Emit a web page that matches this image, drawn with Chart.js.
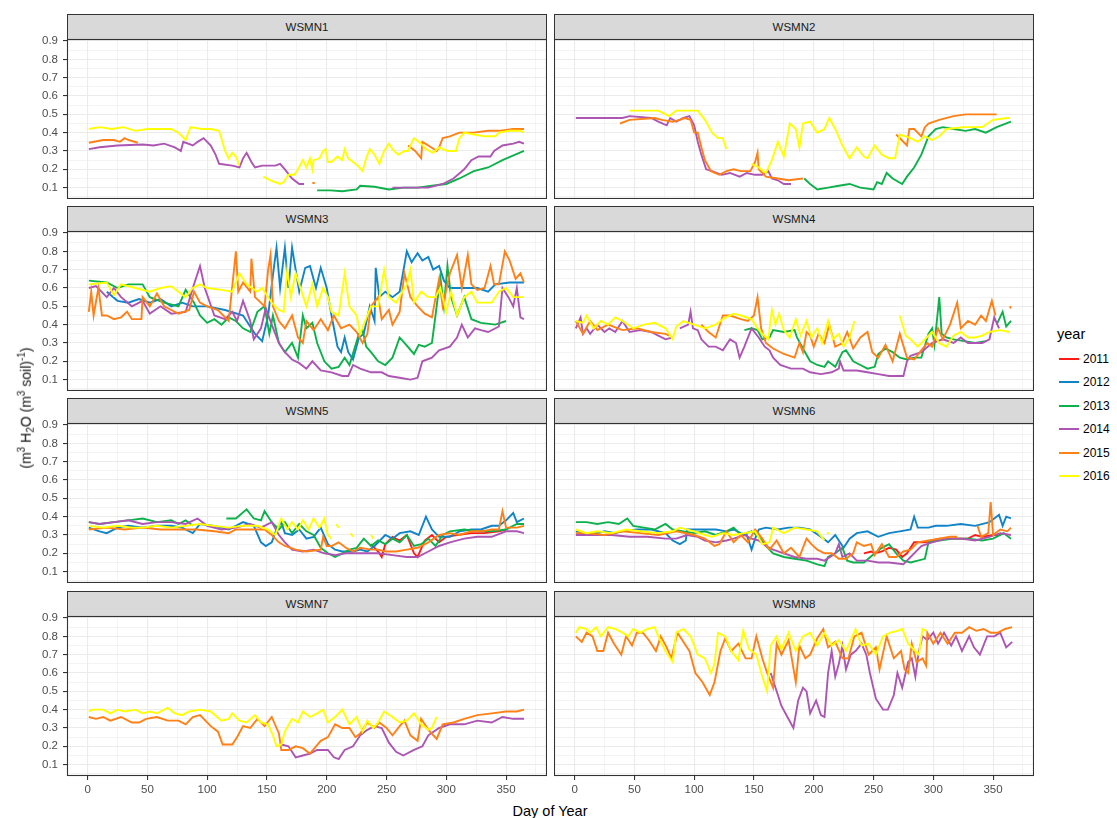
<!DOCTYPE html>
<html>
<head>
<meta charset="utf-8">
<script src="https://cdn.jsdelivr.net/npm/chart.js@4.4.1/dist/chart.umd.min.js"></script>
<style>
  body { margin: 0; background: #fff; font-family: Arial, "Liberation Sans", sans-serif; }
  #page { position: relative; width: 1117px; height: 818px; overflow: hidden; }
  .strip { position: absolute; box-sizing: border-box; background: #d9d9d9; border: 1px solid #333;
           font-size: 11.5px; color: #1a1a1a; text-align: center; }
  .panel { position: absolute; }
  .ytitle { position: absolute; left: 26px; top: 408px; transform: translate(-50%, -50%) rotate(-90deg);
            white-space: nowrap; font-size: 14px; font-weight: 400; color: #111; }
  .ytitle sup, .ytitle sub { font-size: 10px; }
  .xtitle { position: absolute; left: 550px; top: 811px; transform: translate(-50%, -50%); font-size: 14.5px; color: #000; }
  .leg-title { position: absolute; left: 1057px; top: 326px; font-size: 14.5px; color: #000; }
  .leg-item { position: absolute; left: 1059px; height: 16px; font-size: 12px; color: #000; }
  .leg-item i { position: absolute; left: 0; top: 7px; width: 20px; height: 2px; }
  .leg-item span { position: absolute; left: 24px; top: 0; line-height: 16px; }
</style>
</head>
<body>
<div id="page"></div>
<script>
// soil water content by day of year, one array of [day, value] per station/year
// null breaks the line where the logger had no data
const PANELS = ['WSMN1', 'WSMN2', 'WSMN3', 'WSMN4', 'WSMN5', 'WSMN6', 'WSMN7', 'WSMN8'];
const YEARS = [2011, 2012, 2013, 2014, 2015, 2016];
const YEAR_COLORS = ['#ff1a1a', '#1184c8', '#0db14b', '#ac55b3', '#ff8016', '#ffff00'];
const Y_TICKS = [0.05, 0.1, 0.15, 0.2, 0.25, 0.3, 0.35, 0.4, 0.45, 0.5, 0.55, 0.6, 0.65, 0.7, 0.75, 0.8, 0.85, 0.9];
const X_TICKS = [0, 25, 50, 75, 100, 125, 150, 175, 200, 225, 250, 275, 300, 325, 350, 375];

const w1_2013 = [[192,.085],[203,.085],[213,.08],[225,.09],[228,.11],[240,.105],[252,.09],[264,.1],[276,.1],[288,.11],[300,.12],[311,.15],[323,.19],[335,.21],[347,.25],[365,.3]];
const w1_2014 = [[1,.31],[10,.32],[25,.33],[46,.335],[55,.33],[64,.34],[73,.32],[78,.3],[80,.35],[88,.33],[92,.35],[97,.37],[103,.33],[107,.28],[110,.23],[121,.22],[127,.21],[130,.26],[133,.29],[137,.24],[140,.21],[146,.22],[157,.22],[161,.23],[165,.2],[171,.15],[177,.12],[181,.12],[182,null],[255,.1],[270,.1],[285,.1],[297,.12],[306,.15],[315,.2],[321,.25],[327,.27],[337,.27],[340,.3],[347,.33],[356,.34],[361,.35],[365,.34]];
const w1_2015 = [[1,.345],[13,.36],[22,.36],[27,.35],[31,.37],[34,.36],[42,.345],[43,null],[188,.125],[190,.125],[191,null],[268,.33],[274,.3],[279,.26],[280,.35],[285,.33],[292,.3],[294,.32],[297,.37],[303,.38],[311,.4],[323,.4],[335,.41],[344,.41],[356,.42],[365,.42]];
const w1_2016 = [[1,.42],[10,.43],[20,.42],[30,.43],[40,.41],[50,.42],[60,.42],[70,.42],[76,.4],[82,.36],[86,.43],[95,.42],[103,.42],[110,.41],[115,.3],[118,.26],[121,.29],[124,.27],[127,.22],[128,null],[147,.16],[153,.14],[161,.12],[164,.13],[168,.17],[173,.17],[176,.2],[180,.25],[183,.21],[186,.26],[188,.2],[189,.25],[194,.26],[197,.3],[199,.31],[201,.24],[204,.24],[209,.27],[213,.25],[215,.31],[218,.26],[222,.24],[226,.22],[230,.19],[233,.26],[236,.31],[240,.28],[244,.23],[248,.3],[252,.34],[255,.31],[258,.29],[260,.28],[265,.3],[268,.3],[273,.37],[279,.34],[283,.31],[289,.29],[294,.32],[301,.3],[308,.3],[311,.37],[315,.4],[323,.39],[332,.38],[341,.38],[344,.4],[353,.41],[362,.41],[365,.4]];

const w2_2013 = [[192,.15],[197,.12],[203,.09],[212,.1],[221,.11],[230,.12],[239,.1],[250,.09],[253,.13],[257,.12],[261,.18],[266,.15],[274,.12],[278,.16],[284,.21],[290,.28],[296,.38],[302,.42],[308,.43],[317,.42],[327,.41],[335,.42],[344,.4],[353,.43],[365,.46]];
const w2_2014 = [[1,.48],[20,.48],[40,.48],[46,.49],[64,.48],[70,.46],[77,.44],[80,.48],[85,.46],[91,.48],[96,.49],[100,.44],[103,.35],[106,.28],[110,.2],[115,.19],[123,.17],[130,.18],[138,.16],[144,.18],[151,.17],[157,.17],[162,.19],[165,.15],[170,.14],[175,.12],[181,.12]];
const w2_2015 = [[38,.45],[46,.47],[67,.48],[73,.47],[82,.46],[88,.47],[92,.48],[97,.47],[100,.4],[103,.4],[106,.32],[109,.25],[114,.19],[121,.17],[127,.19],[133,.2],[139,.19],[147,.19],[151,.24],[153,.29],[154,.2],[160,.16],[170,.15],[179,.14],[191,.15],[192,null],[269,.39],[278,.33],[280,.42],[284,.42],[290,.38],[293,.43],[296,.45],[305,.47],[317,.49],[327,.5],[341,.5],[353,.5]];
const w2_2016 = [[34,.52],[35,null],[46,.52],[70,.52],[79,.49],[85,.52],[94,.52],[103,.52],[109,.47],[115,.4],[120,.37],[124,.37],[127,.31],[128,null],[148,.23],[154,.21],[160,.18],[165,.25],[170,.35],[175,.27],[180,.45],[185,.42],[188,.32],[191,.45],[197,.46],[203,.4],[209,.42],[213,.48],[218,.42],[224,.33],[230,.26],[236,.32],[242,.27],[245,.26],[251,.33],[257,.28],[263,.26],[268,.26],[272,.39],[281,.37],[287,.35],[293,.38],[299,.36],[305,.38],[311,.42],[326,.43],[341,.43],[350,.47],[362,.48],[364,.48]];

const w3_2012 = [[16,.58],[25,.53],[34,.52],[43,.54],[52,.52],[61,.54],[70,.5],[79,.52],[88,.5],[100,.5],[115,.48],[130,.45],[140,.35],[146,.31],[151,.45],[155,.67],[158,.82],[161,.6],[165,.82],[168,.6],[171,.82],[174,.7],[177,.58],[182,.71],[186,.72],[191,.6],[195,.71],[200,.6],[204,.45],[209,.28],[212,.25],[215,.33],[218,.25],[222,.21],[227,.33],[231,.35],[236,.5],[240,.42],[241,.71],[244,.55],[249,.58],[255,.55],[261,.58],[267,.8],[271,.74],[276,.79],[280,.75],[285,.77],[289,.7],[294,.72],[298,.64],[303,.6],[315,.6],[326,.6],[335,.58],[341,.62],[353,.63],[365,.63]];
const w3_2013 = [[1,.64],[16,.63],[25,.6],[34,.62],[46,.62],[52,.55],[64,.52],[76,.5],[82,.59],[89,.52],[94,.45],[100,.41],[106,.43],[112,.4],[118,.44],[124,.42],[130,.38],[136,.36],[142,.47],[148,.5],[152,.35],[155,.45],[160,.3],[165,.25],[171,.3],[176,.22],[180,.45],[183,.38],[188,.41],[192,.3],[198,.2],[204,.16],[210,.17],[215,.22],[219,.18],[227,.35],[230,.37],[233,.28],[237,.25],[243,.2],[249,.18],[255,.22],[261,.33],[265,.3],[273,.24],[277,.29],[282,.28],[288,.3],[291,.45],[295,.66],[298,.5],[301,.72],[304,.55],[309,.45],[315,.55],[321,.43],[329,.41],[341,.4],[350,.42]];
const w3_2014 = [[1,.6],[7,.61],[16,.55],[22,.6],[28,.55],[37,.5],[46,.53],[52,.46],[61,.5],[70,.46],[82,.47],[89,.62],[94,.72],[98,.6],[106,.45],[115,.43],[121,.47],[125,.42],[130,.53],[136,.42],[139,.32],[145,.38],[149,.49],[154,.4],[160,.3],[165,.25],[171,.21],[177,.19],[183,.16],[188,.2],[195,.15],[204,.14],[213,.12],[218,.12],[222,.18],[228,.16],[237,.14],[246,.14],[252,.12],[261,.11],[270,.1],[276,.11],[280,.2],[288,.22],[294,.26],[303,.28],[309,.33],[313,.4],[318,.33],[324,.38],[329,.37],[335,.36],[344,.39],[347,.6],[352,.55],[356,.5],[359,.6],[362,.44],[365,.43]];
const w3_2015 = [[1,.47],[3,.58],[5,.45],[9,.6],[12,.45],[16,.45],[22,.43],[28,.44],[33,.47],[37,.43],[45,.43],[46,.55],[52,.5],[58,.57],[64,.5],[70,.48],[76,.46],[85,.48],[89,.58],[94,.52],[100,.5],[109,.48],[118,.42],[124,.8],[126,.58],[130,.63],[136,.58],[137,.76],[140,.55],[148,.5],[151,.7],[153,.78],[155,.5],[160,.42],[165,.38],[171,.45],[176,.33],[180,.3],[183,.42],[189,.37],[195,.43],[201,.37],[206,.45],[212,.38],[219,.4],[225,.36],[230,.3],[234,.35],[237,.5],[243,.55],[246,.43],[252,.48],[255,.4],[261,.47],[265,.68],[270,.55],[276,.5],[282,.46],[288,.44],[294,.65],[297,.5],[303,.68],[309,.78],[313,.6],[318,.78],[321,.62],[326,.59],[332,.6],[337,.72],[340,.62],[344,.62],[349,.8],[353,.75],[358,.65],[362,.68],[365,.63]];
const w3_2016 = [[1,.62],[16,.63],[22,.56],[28,.62],[40,.6],[52,.58],[61,.6],[70,.61],[76,.58],[82,.55],[88,.6],[94,.62],[100,.6],[112,.59],[121,.58],[127,.68],[133,.62],[142,.58],[146,.6],[154,.52],[160,.48],[164,.47],[167,.7],[170,.55],[174,.68],[179,.58],[183,.5],[188,.62],[192,.5],[197,.6],[201,.55],[204,.47],[210,.45],[215,.68],[219,.5],[225,.45],[228,.35],[231,.4],[237,.5],[243,.5],[248,.7],[252,.55],[258,.52],[267,.62],[270,.7],[273,.52],[279,.58],[285,.55],[291,.55],[295,.6],[300,.47],[304,.58],[309,.45],[315,.55],[321,.58],[326,.52],[338,.52],[344,.58],[350,.6],[356,.55],[365,.55]];

const w4_2013 = [[142,.37],[148,.38],[153,.37],[157,.32],[163,.33],[166,.37],[175,.36],[184,.37],[186,.33],[191,.27],[197,.2],[203,.18],[209,.17],[212,.2],[218,.17],[224,.25],[227,.26],[233,.2],[239,.18],[245,.16],[251,.17],[254,.24],[260,.27],[266,.25],[272,.22],[278,.21],[284,.22],[290,.22],[296,.35],[299,.38],[301,.29],[305,.55],[307,.35],[311,.33],[317,.32],[326,.31],[335,.3],[344,.31],[345,null],[353,.4],[358,.47],[361,.39],[365,.42]];
const w4_2014 = [[1,.38],[5,.44],[7,.35],[10,.38],[13,.35],[19,.4],[25,.36],[29,.38],[34,.36],[40,.42],[46,.36],[55,.37],[64,.36],[70,.34],[76,.32],[82,.33],[83,null],[88,.38],[95,.4],[97,.47],[99,.38],[103,.37],[106,.32],[112,.28],[118,.28],[124,.26],[130,.32],[135,.3],[138,.22],[142,.28],[148,.38],[154,.33],[159,.28],[163,.26],[166,.22],[172,.18],[181,.16],[191,.16],[197,.14],[206,.13],[215,.14],[221,.16],[222,.2],[225,.15],[236,.15],[245,.14],[254,.13],[263,.12],[275,.12],[278,.2],[281,.23],[290,.25],[299,.3],[308,.32],[317,.3],[323,.33],[329,.3],[341,.3],[347,.32],[351,.44],[355,.38]];
const w4_2015 = [[1,.42],[7,.35],[13,.42],[19,.37],[28,.4],[40,.37],[52,.38],[64,.36],[76,.35],[79,.34],[80,null],[106,.4],[112,.36],[118,.33],[124,.45],[130,.45],[139,.43],[145,.42],[150,.45],[153,.55],[156,.38],[160,.3],[166,.27],[175,.24],[184,.22],[188,.3],[191,.25],[194,.36],[197,.34],[200,.28],[204,.35],[209,.3],[213,.4],[218,.28],[224,.3],[228,.36],[233,.27],[239,.33],[245,.36],[249,.25],[254,.22],[260,.29],[266,.2],[272,.35],[278,.22],[284,.21],[290,.26],[295,.3],[299,.28],[304,.38],[308,.32],[314,.4],[320,.52],[323,.38],[329,.42],[335,.4],[340,.45],[344,.42],[349,.53],[352,.45],[353,null],[364,.49],[365,.5]];
const w4_2016 = [[1,.42],[7,.41],[10,.45],[16,.38],[22,.42],[28,.4],[34,.44],[40,.42],[49,.38],[58,.4],[67,.41],[76,.38],[82,.32],[85,.39],[91,.42],[100,.4],[109,.38],[118,.4],[124,.43],[133,.46],[139,.45],[148,.43],[153,.38],[157,.35],[162,.32],[165,.48],[168,.4],[171,.46],[175,.37],[180,.33],[185,.43],[189,.34],[194,.42],[198,.33],[203,.38],[207,.3],[212,.42],[216,.32],[221,.35],[225,.28],[230,.33],[234,.42],[235,null],[272,.45],[277,.34],[281,.32],[287,.28],[293,.32],[299,.36],[305,.3],[311,.28],[317,.34],[323,.36],[329,.33],[335,.33],[341,.34],[347,.36],[356,.37],[364,.36]];

const w5_2011 = [[237,.25],[243,.21],[246,.18],[249,.25],[255,.29],[261,.27],[267,.3],[273,.2],[276,.18],[282,.27],[288,.3],[294,.26],[300,.29],[309,.3],[321,.31],[332,.31],[344,.32],[350,.33]];
const w5_2012 = [[1,.34],[10,.32],[16,.31],[25,.34],[34,.35],[46,.34],[58,.35],[70,.35],[79,.34],[88,.31],[94,.36],[106,.35],[118,.33],[130,.37],[139,.35],[145,.26],[149,.24],[154,.26],[158,.33],[162,.37],[165,.31],[171,.3],[177,.33],[183,.28],[189,.29],[195,.34],[201,.25],[207,.22],[213,.21],[222,.21],[228,.22],[234,.21],[240,.24],[249,.3],[255,.28],[261,.31],[270,.32],[277,.3],[283,.4],[288,.33],[294,.29],[303,.29],[311,.32],[321,.33],[329,.33],[338,.35],[344,.35],[350,.38],[356,.42],[359,.37],[365,.39]];
const w5_2013 = [[1,.37],[10,.36],[22,.37],[34,.38],[46,.39],[58,.37],[70,.38],[76,.36],[82,.38],[88,.35],[89,null],[116,.39],[124,.39],[133,.44],[139,.39],[145,.38],[148,.43],[154,.37],[160,.33],[165,.37],[171,.31],[177,.36],[183,.32],[189,.3],[195,.23],[201,.2],[207,.18],[213,.2],[219,.22],[225,.23],[231,.28],[237,.24],[243,.27],[249,.25],[255,.28],[261,.26],[267,.3],[273,.24],[279,.25],[285,.28],[291,.24],[297,.3],[303,.32],[315,.33],[326,.32],[338,.32],[350,.33],[359,.36],[365,.36]];
const w5_2014 = [[1,.37],[10,.36],[22,.37],[34,.38],[46,.36],[58,.37],[70,.37],[82,.36],[92,.39],[100,.35],[112,.33],[124,.34],[136,.36],[145,.34],[154,.37],[160,.3],[165,.26],[171,.22],[180,.21],[189,.22],[198,.2],[207,.19],[216,.2],[225,.2],[234,.2],[243,.2],[255,.19],[267,.18],[276,.18],[285,.21],[294,.24],[303,.26],[315,.28],[326,.29],[338,.29],[350,.32],[359,.32],[365,.31]];
const w5_2015 = [[1,.33],[16,.34],[31,.33],[46,.34],[61,.33],[76,.33],[91,.33],[106,.32],[118,.31],[124,.33],[136,.33],[148,.33],[154,.3],[160,.26],[165,.24],[174,.22],[183,.21],[195,.22],[197,.29],[200,.24],[204,.24],[210,.26],[216,.23],[222,.21],[228,.23],[237,.22],[243,.22],[249,.21],[258,.21],[267,.22],[276,.23],[285,.26],[294,.3],[303,.31],[311,.3],[321,.32],[329,.32],[338,.33],[344,.33],[347,.43],[350,.34],[359,.34],[365,.35]];
const w5_2016 = [[1,.35],[13,.34],[25,.35],[37,.34],[46,.34],[58,.35],[70,.34],[82,.35],[94,.36],[106,.35],[118,.34],[130,.35],[142,.35],[151,.33],[157,.3],[162,.39],[167,.33],[171,.37],[176,.33],[180,.38],[185,.33],[189,.39],[194,.34],[198,.39],[201,.3],[204,.28],[205,null],[208,.36],[210,.34],[211,null],[220,.31],[222,.29],[223,null],[237,.3],[239,.28]];

const w6_2011 = [[242,.2],[248,.21],[251,.2],[257,.21],[263,.23],[269,.22],[274,.18],[278,.2],[284,.26],[293,.26],[305,.28],[317,.28],[329,.28],[335,.3],[341,.29],[350,.3],[356,.3]];
const w6_2012 = [[1,.32],[10,.31],[19,.31],[25,.32],[34,.31],[40,.32],[52,.33],[64,.33],[76,.31],[82,.27],[88,.25],[93,.27],[94,.33],[100,.33],[109,.33],[118,.33],[127,.32],[133,.33],[139,.31],[144,.3],[148,.22],[151,.28],[154,.33],[160,.34],[170,.33],[179,.34],[188,.34],[197,.33],[206,.29],[212,.26],[218,.3],[221,.27],[225,.23],[230,.28],[236,.31],[245,.32],[254,.29],[263,.31],[272,.32],[281,.33],[284,.4],[287,.34],[296,.34],[302,.35],[311,.35],[323,.36],[335,.35],[347,.37],[355,.41],[358,.35],[361,.4],[365,.39]];
const w6_2013 = [[1,.37],[10,.37],[19,.36],[28,.37],[37,.36],[44,.39],[49,.35],[58,.34],[67,.33],[76,.36],[82,.33],[91,.32],[100,.31],[109,.32],[118,.3],[127,.32],[133,.34],[139,.3],[148,.32],[154,.29],[160,.24],[166,.2],[175,.18],[184,.17],[194,.16],[203,.14],[209,.13],[212,.18],[218,.2],[224,.23],[228,.16],[233,.15],[242,.15],[251,.2],[257,.23],[263,.25],[269,.2],[275,.16],[281,.15],[287,.16],[293,.17],[296,.26],[305,.27],[317,.28],[329,.28],[341,.27],[350,.28],[359,.31],[365,.28]];
const w6_2014 = [[1,.3],[16,.3],[31,.3],[46,.29],[61,.29],[76,.28],[85,.28],[94,.3],[103,.29],[109,.27],[118,.26],[127,.27],[133,.28],[142,.3],[148,.28],[154,.27],[160,.24],[166,.22],[175,.2],[184,.18],[194,.17],[203,.17],[209,.16],[218,.2],[221,.25],[224,.18],[230,.2],[236,.16],[245,.16],[254,.15],[263,.15],[275,.14],[281,.18],[284,.2],[290,.24],[299,.26],[311,.28],[323,.28],[335,.27],[347,.29],[356,.31],[365,.3]];
const w6_2015 = [[1,.31],[10,.31],[25,.3],[40,.32],[55,.31],[70,.3],[85,.32],[100,.3],[109,.28],[117,.24],[121,.25],[127,.32],[133,.26],[139,.3],[145,.26],[151,.33],[157,.28],[163,.22],[169,.27],[175,.2],[181,.23],[188,.18],[194,.28],[198,.25],[203,.22],[209,.2],[215,.2],[221,.17],[227,.17],[233,.2],[236,.26],[242,.24],[248,.25],[251,.19],[257,.25],[263,.18],[269,.18],[275,.21],[281,.22],[287,.26],[296,.27],[305,.28],[314,.29],[320,.29],[321,null],[337,.35],[340,.29],[346,.31],[348,.48],[350,.3],[356,.33],[362,.32],[365,.34]];
const w6_2016 = [[1,.33],[10,.31],[19,.32],[31,.31],[43,.33],[55,.32],[70,.31],[82,.32],[88,.34],[100,.32],[109,.3],[115,.29],[124,.31],[133,.3],[142,.31],[151,.32],[157,.25],[163,.26],[166,.34],[175,.31],[184,.34],[194,.33],[203,.32],[209,.27],[210,null],[211,.31],[213,.31]];

const w7_2014 = [[162,.21],[168,.2],[174,.14],[180,.15],[186,.16],[192,.18],[201,.18],[206,.14],[210,.13],[215,.18],[222,.2],[228,.26],[234,.29],[240,.31],[246,.3],[252,.22],[258,.17],[264,.15],[273,.18],[280,.2],[285,.26],[294,.3],[303,.32],[315,.32],[326,.34],[338,.33],[347,.36],[356,.35],[365,.35]];
const w7_2015 = [[1,.36],[7,.35],[13,.36],[19,.34],[28,.36],[37,.33],[43,.33],[49,.35],[58,.36],[67,.34],[76,.34],[82,.32],[88,.36],[94,.37],[103,.31],[109,.28],[113,.21],[121,.21],[125,.25],[130,.31],[136,.3],[142,.35],[148,.31],[154,.36],[160,.27],[162,.18],[168,.18],[174,.2],[180,.19],[186,.16],[191,.2],[195,.23],[201,.25],[207,.32],[213,.3],[219,.3],[224,.25],[228,.27],[234,.33],[240,.3],[244,.33],[250,.3],[255,.26],[261,.31],[265,.34],[270,.26],[276,.23],[279,.35],[285,.29],[292,.24],[297,.32],[306,.33],[315,.35],[326,.37],[338,.38],[350,.39],[359,.39],[365,.4]];
const w7_2016 = [[1,.39],[4,.4],[13,.4],[19,.38],[25,.4],[31,.39],[40,.4],[46,.38],[52,.39],[58,.38],[67,.41],[73,.38],[79,.37],[85,.39],[94,.4],[103,.39],[112,.34],[118,.35],[121,.38],[127,.34],[133,.33],[140,.37],[145,.33],[151,.32],[155,.26],[158,.2],[162,.21],[165,.28],[171,.35],[176,.33],[180,.39],[186,.36],[192,.38],[197,.4],[201,.33],[207,.36],[213,.4],[219,.32],[225,.36],[230,.28],[234,.34],[239,.3],[243,.33],[248,.39],[255,.36],[261,.33],[267,.34],[273,.38],[279,.32],[285,.29],[288,.3],[292,.36]];

const w8_2014 = [[164,.6],[169,.5],[173,.42],[178,.36],[183,.3],[187,.45],[191,.52],[194,.5],[197,.38],[202,.45],[206,.37],[209,.36],[212,.6],[215,.72],[218,.58],[221,.65],[224,.75],[227,.62],[231,.7],[235,.72],[240,.76],[244,.7],[247,.6],[252,.46],[258,.4],[262,.4],[267,.48],[270,.6],[274,.52],[279,.66],[282,.68],[285,.58],[288,.72],[291,.8],[295,.78],[300,.82],[304,.76],[309,.82],[315,.75],[319,.8],[324,.72],[330,.8],[334,.74],[339,.7],[345,.8],[351,.8],[356,.82],[361,.74],[366,.77]];
const w8_2015 = [[1,.8],[6,.77],[10,.82],[15,.8],[19,.72],[24,.72],[28,.82],[33,.76],[39,.7],[43,.8],[48,.75],[52,.82],[57,.82],[62,.78],[68,.72],[72,.8],[77,.74],[81,.68],[86,.82],[92,.76],[96,.72],[101,.6],[107,.55],[113,.48],[117,.55],[122,.72],[126,.79],[131,.72],[137,.76],[143,.68],[148,.68],[152,.8],[157,.68],[161,.6],[166,.52],[169,.76],[173,.7],[179,.78],[185,.55],[188,.75],[193,.68],[197,.7],[203,.79],[208,.84],[212,.74],[218,.77],[224,.68],[229,.68],[234,.8],[240,.82],[246,.7],[252,.74],[255,.62],[261,.8],[267,.68],[273,.72],[276,.62],[279,.6],[282,.76],[286,.66],[291,.68],[294,.64],[295,.82],[300,.76],[306,.82],[312,.76],[318,.82],[324,.82],[330,.85],[336,.83],[342,.84],[348,.82],[354,.82],[360,.84],[366,.85]];
const w8_2016 = [[1,.82],[4,.85],[10,.84],[13,.82],[18,.85],[22,.8],[28,.85],[34,.84],[40,.82],[45,.8],[49,.84],[55,.82],[61,.84],[67,.85],[70,.8],[76,.72],[82,.66],[85,.82],[91,.84],[97,.8],[103,.7],[109,.68],[114,.6],[117,.65],[120,.82],[126,.8],[131,.72],[137,.67],[141,.83],[146,.73],[152,.7],[157,.58],[161,.5],[164,.75],[169,.8],[173,.73],[179,.82],[185,.72],[191,.8],[197,.82],[203,.75],[209,.82],[215,.75],[221,.78],[227,.72],[235,.84],[240,.75],[246,.76],[252,.7],[258,.8],[264,.82],[270,.83],[274,.84],[279,.76],[285,.72],[288,.7],[291,.84],[294,.83]];

const SERIES = {
  WSMN1: { 2013: w1_2013, 2014: w1_2014, 2015: w1_2015, 2016: w1_2016 },
  WSMN2: { 2013: w2_2013, 2014: w2_2014, 2015: w2_2015, 2016: w2_2016 },
  WSMN3: { 2012: w3_2012, 2013: w3_2013, 2014: w3_2014, 2015: w3_2015, 2016: w3_2016 },
  WSMN4: { 2013: w4_2013, 2014: w4_2014, 2015: w4_2015, 2016: w4_2016 },
  WSMN5: { 2011: w5_2011, 2012: w5_2012, 2013: w5_2013, 2014: w5_2014, 2015: w5_2015, 2016: w5_2016 },
  WSMN6: { 2011: w6_2011, 2012: w6_2012, 2013: w6_2013, 2014: w6_2014, 2015: w6_2015, 2016: w6_2016 },
  WSMN7: { 2014: w7_2014, 2015: w7_2015, 2016: w7_2016 },
  WSMN8: { 2014: w8_2014, 2015: w8_2015, 2016: w8_2016 }
};

(() => {
  'use strict';

  const page = document.getElementById('page');
  const COL_LEFT = [67, 554];
  const ROW_TOP = [14, 206, 398, 591];
  const STRIP_H = 25;
  const PLOT_W = 480;
  const PLOT_H = 160;
  const Y_AXIS_W = 41;
  const X_AXIS_H = 24;
  const PAD_TOP = 8;

  Chart.defaults.font.family = 'Arial, "Liberation Sans", sans-serif';
  Chart.defaults.font.size = 11.5;

  const isMajorY = v => Math.round(v * 100) % 10 === 0;
  const isMajorX = v => v % 50 === 0;

  // ggplot-like panel border drawn over the data
  const frame = {
    id: 'frame',
    afterDraw(chart) {
      const { ctx, chartArea: a } = chart;
      ctx.save();
      ctx.strokeStyle = '#333333';
      ctx.lineWidth = 1.1;
      ctx.strokeRect(a.left + 0.5, a.top + 0.5, a.right - a.left - 1, a.bottom - a.top - 1);
      ctx.restore();
    }
  };

  function addDiv(cls, css, html) {
    const d = document.createElement('div');
    d.className = cls;
    d.style.cssText = css;
    if (html != null) d.innerHTML = html;
    page.appendChild(d);
    return d;
  }

  function buildPanel(name, i) {
    const col = i % 2;
    const row = Math.floor(i / 2);
    const left = COL_LEFT[col];
    const top = ROW_TOP[row];
    const showY = col === 0;
    const showX = row === 3;

    addDiv('strip', `left:${left}px;top:${top}px;width:${PLOT_W}px;height:${STRIP_H + 1}px;line-height:${STRIP_H - 1}px`, name);

    const axisW = showY ? Y_AXIS_W : 0;
    const axisH = showX ? X_AXIS_H : 0;
    const w = PLOT_W + axisW;
    const h = PLOT_H + axisH + PAD_TOP;
    const wrap = addDiv('panel', `left:${left - axisW}px;top:${top + STRIP_H - PAD_TOP}px;width:${w}px;height:${h}px`);
    const canvas = document.createElement('canvas');
    canvas.width = w;
    canvas.height = h;
    wrap.appendChild(canvas);

    const byYear = SERIES[name];
    const datasets = YEARS.map((yr, k) => byYear[yr] ? {
      label: String(yr),
      data: byYear[yr].map(p => ({ x: p[0], y: p[1] })),
      borderColor: YEAR_COLORS[k],
      borderWidth: 1.9,
      pointRadius: 0,
      fill: false,
      tension: 0,
      spanGaps: false,
      order: 2016 - yr
    } : null).filter(Boolean);

    new Chart(canvas, {
      type: 'line',
      data: { datasets },
      plugins: [frame],
      options: {
        responsive: false,
        animation: false,
        events: [],
        layout: { padding: { top: PAD_TOP, left: 0, right: 0, bottom: 0 } },
        plugins: { legend: { display: false }, tooltip: { enabled: false } },
        scales: {
          x: {
            type: 'linear',
            min: -17.25,
            max: 384.25,
            afterBuildTicks: s => { s.ticks = X_TICKS.map(v => ({ value: v })); },
            afterFit: s => { s.height = axisH; s.paddingLeft = 0; s.paddingRight = 0; },
            border: { display: false },
            grid: {
              color: '#ebebeb',
              lineWidth: c => isMajorX(c.tick.value) ? 1.1 : 0.55,
              drawTicks: showX,
              tickLength: 4,
              tickWidth: 1.1,
              tickColor: c => isMajorX(c.tick.value) ? '#333333' : 'rgba(0,0,0,0)'
            },
            ticks: {
              display: showX,
              autoSkip: false,
              maxRotation: 0,
              padding: 3,
              color: '#4d4d4d',
              callback: v => isMajorX(v) ? String(v) : ''
            }
          },
          y: {
            type: 'linear',
            min: 0.038,
            max: 0.911,
            afterBuildTicks: s => { s.ticks = Y_TICKS.map(v => ({ value: v })); },
            afterFit: s => { s.width = axisW; s.paddingTop = 0; s.paddingBottom = 0; },
            border: { display: false },
            grid: {
              color: '#ebebeb',
              lineWidth: c => isMajorY(c.tick.value) ? 1.1 : 0.55,
              drawTicks: showY,
              tickLength: 4,
              tickWidth: 1.1,
              tickColor: c => isMajorY(c.tick.value) ? '#333333' : 'rgba(0,0,0,0)'
            },
            ticks: {
              display: showY,
              autoSkip: false,
              padding: 5,
              color: '#4d4d4d',
              callback: v => isMajorY(v) ? v.toFixed(1) : ''
            }
          }
        }
      }
    });
  }

  function buildLegend() {
    addDiv('leg-title', '', 'year');
    YEARS.forEach((yr, k) => {
      const item = addDiv('leg-item', `top:${351 + k * 23.4}px`);
      item.innerHTML = `<i style="background:${YEAR_COLORS[k]}"></i><span>${yr}</span>`;
    });
  }

  function init() {
    PANELS.forEach(buildPanel);
    addDiv('ytitle', '', '(m<sup>3</sup> H<sub>2</sub>O (m<sup>3</sup> soil)<sup>-1</sup>)');
    addDiv('xtitle', '', 'Day of Year');
    buildLegend();
  }

  init();
})();
</script>
</body>
</html>
